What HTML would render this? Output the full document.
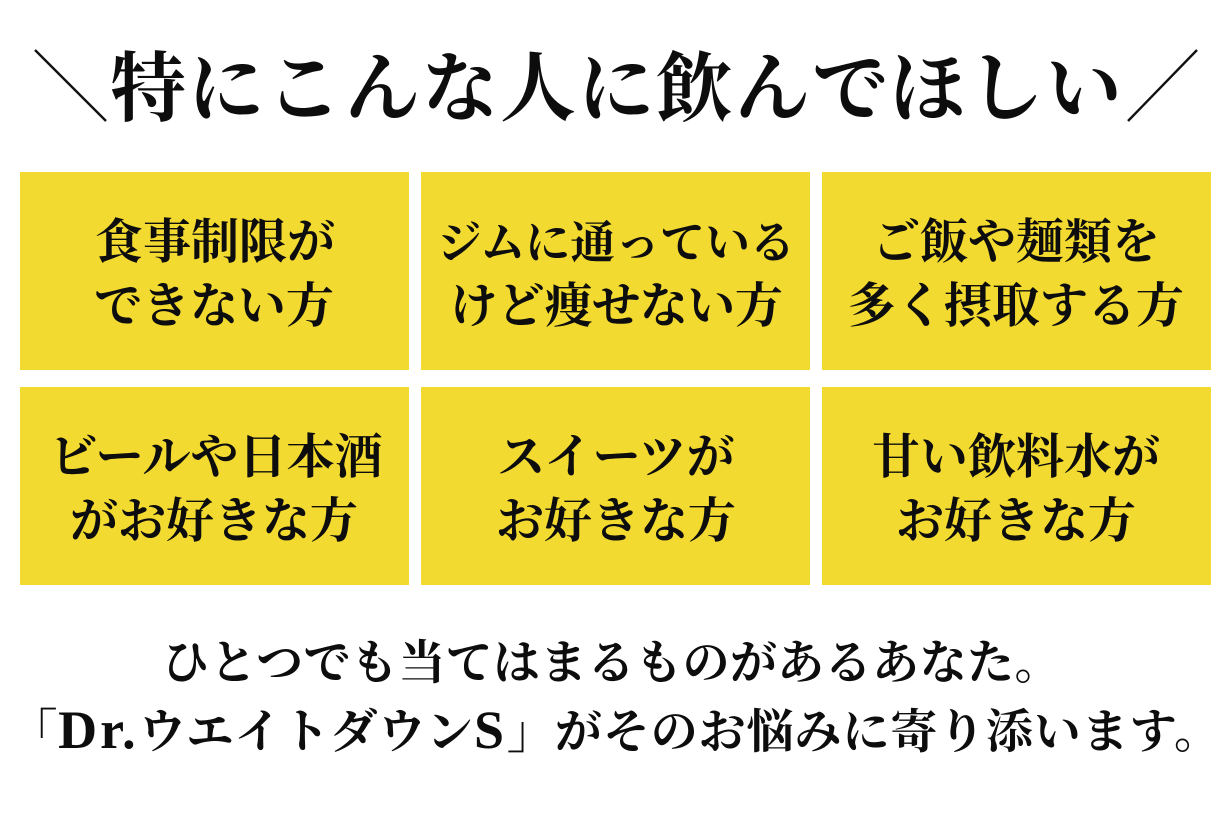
<!DOCTYPE html>
<html lang="ja">
<head>
<meta charset="utf-8">
<style>
html,body{margin:0;padding:0;background:#fff}
body{width:1230px;height:820px;position:relative;overflow:hidden;font-family:"Liberation Serif","Noto Serif CJK SC",serif;color:#0d0d0d}
.b{position:absolute;background:#f3da30;width:389px;height:198px}
.t{position:absolute;white-space:nowrap;font-family:"Noto Serif CJK SC","Liberation Serif",serif;font-weight:700;line-height:1;text-align:center;transform:translateX(-50%)}
.m{font-size:48px}
.s{font-size:45px;letter-spacing:0}
.l{font-size:47px;font-weight:700}
.h{font-size:76px;letter-spacing:2px}
.lat{font-family:"Liberation Serif",serif;font-weight:700;font-size:54px;letter-spacing:3px}
</style>
</head>
<body>
<svg width="1230" height="820" style="position:absolute;left:0;top:0">
<line x1="35" y1="50" x2="106" y2="121" stroke="#111" stroke-width="2.4"/>
<line x1="1197" y1="50" x2="1128" y2="121" stroke="#111" stroke-width="2.4"/>
</svg>
<div class="t h" style="left:617px;top:45px">特にこんな人に飲んでほしい</div>

<div class="b" style="left:20px;top:172px"></div>
<div class="b" style="left:421px;top:172px"></div>
<div class="b" style="left:822px;top:172px"></div>
<div class="b" style="left:20px;top:387px"></div>
<div class="b" style="left:421px;top:387px"></div>
<div class="b" style="left:822px;top:387px"></div>

<div class="t m" style="left:215px;top:214px">食事制限が</div>
<div class="t m" style="left:214px;top:278px">できない方</div>
<div class="t s" style="left:616px;top:216px">ジムに通っている</div>
<div class="t m" style="left:616px;top:278px;letter-spacing:-.4px">けど痩せない方</div>
<div class="t m" style="left:1016px;top:214px">ご飯や麺類を</div>
<div class="t m" style="left:1016px;top:278px">多く摂取する方</div>

<div class="t m" style="left:216px;top:429px">ビールや日本酒</div>
<div class="t m" style="left:214px;top:493px">がお好きな方</div>
<div class="t m" style="left:616px;top:429px">スイーツが</div>
<div class="t m" style="left:616px;top:493px">お好きな方</div>
<div class="t m" style="left:1016px;top:429px">甘い飲料水が</div>
<div class="t m" style="left:1016px;top:493px">お好きな方</div>

<div class="t l" style="left:612px;top:636px;letter-spacing:.4px">ひとつでも当てはまるものがあるあなた。</div>
<div class="t l" style="left:616px;top:703px;letter-spacing:.9px">「<span class="lat">Dr.</span>ウエイトダウン<span class="lat">S</span>」がそのお悩みに寄り添います。</div>
</body>
</html>
